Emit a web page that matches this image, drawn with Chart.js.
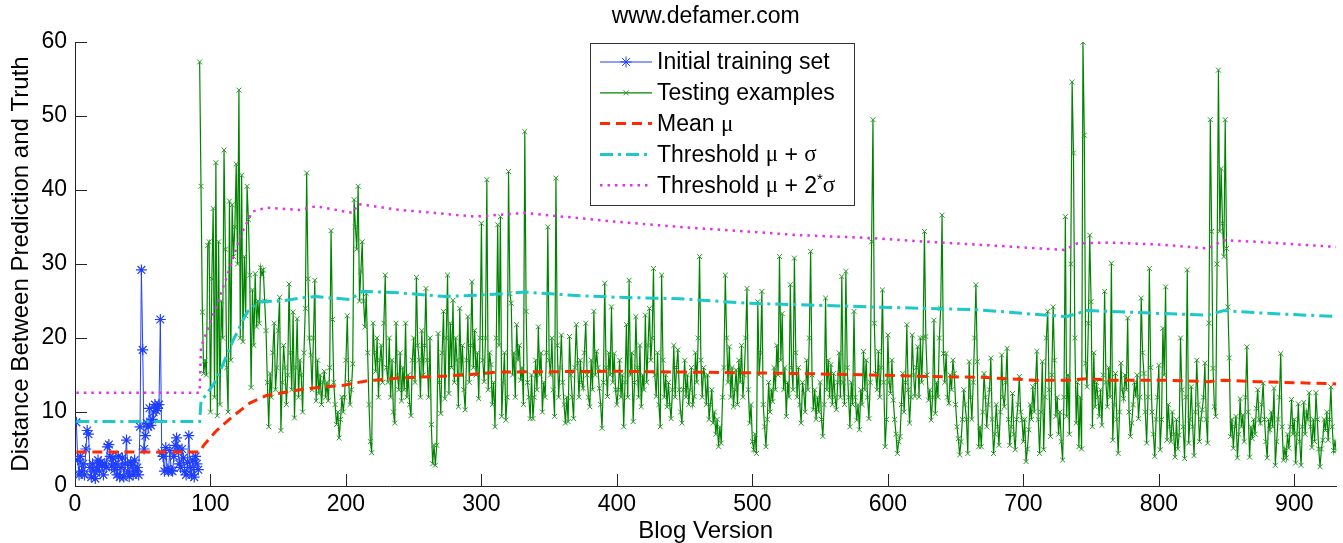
<!DOCTYPE html>
<html>
<head>
<meta charset="utf-8">
<title>www.defamer.com</title>
<script src="https://cdn.jsdelivr.net/npm/chart.js@4.4.1/dist/chart.umd.min.js"></script>
<style>
  html, body { margin: 0; padding: 0; background: #fff; overflow: hidden; }
  #wrap { width: 1343px; height: 543px; overflow: hidden; }
</style>
</head>
<body>
<div id="wrap"><canvas id="chart" width="1343" height="560"></canvas></div>
<script>
// Axis ticks
const xTicks = [0, 100, 200, 300, 400, 500, 600, 700, 800, 900];
const yTicks = [0, 10, 20, 30, 40, 50, 60];
const xMax = 931;

// Initial training set, blog versions 1..91
const trainStart = 1;
const trainValues = [
  8.6, 3.5, 1.5, 4.0, 2.0, 3.0, 1.5, 5.0, 7.5, 7.0,
  2.5, 1.2, 3.0, 2.0, 1.0, 2.5, 3.5, 2.0, 3.2, 2.8,
  1.5, 3.0, 2.5, 5.3, 5.6, 4.0, 2.7, 3.8, 2.2, 3.0,
  1.5, 4.0, 1.2, 2.5, 3.8, 1.2, 3.0, 6.2, 2.0, 1.3,
  3.2, 2.8, 1.5, 3.5, 2.0, 2.5, 1.5, 8.0, 29.2, 18.4,
  5.0, 6.8, 8.5, 8.0, 10.5, 8.2, 9.0, 10.0, 11.0, 10.2,
  10.5, 11.0, 22.5, 4.5, 4.0, 2.0, 5.2, 2.3, 2.0, 4.8,
  2.1, 2.0, 4.0, 5.5, 6.5, 5.0, 3.0, 2.5, 5.0, 3.8,
  2.0, 1.5, 3.2, 6.8, 2.5, 1.5, 3.5, 1.2, 4.0, 3.0, 2.2
];

// Testing examples, blog versions 92..931
const testStart = 92;
const testValues = [
  57.3, 40.5, 23.5, 15.2, 17, 15, 32.5, 33,
  10, 28, 37.5, 12, 43.7, 9.5, 33, 11, 25, 20,
  45.4, 32, 16, 10, 38.5, 17, 38, 31, 35, 43.5,
  30, 53.5, 20, 42, 19.5, 31, 23, 40.5, 36, 28.5,
  13.3, 26.5, 19, 28.7, 21.5, 25, 22, 29.5, 28.5, 29.2,
  25, 21, 14, 8, 15.2, 12, 18, 22, 13, 16,
  21, 25.5, 7.5, 14, 19, 16, 11, 15, 27.3, 18,
  13, 23.5, 9.2, 16, 22.6, 12, 17, 15, 10, 18,
  24, 42.3, 28, 20, 17.7, 13, 20, 27.8, 11.5, 17,
  12.5, 15, 11, 14, 15.5, 12, 14, 11.5, 16, 34.5,
  22.5, 14, 11, 8.3, 10, 6.5, 9, 12, 10, 12,
  17, 23, 14, 11, 13, 16.5, 38.7, 35, 32, 40.5,
  25, 29, 33, 25, 21.5, 26, 18, 11, 6, 4.5,
  22, 18, 15.5, 20, 12, 17, 19, 14, 22, 28.5,
  16, 14, 20, 12, 17, 10, 8.5, 22, 15, 13,
  18, 11.5, 16, 13, 22, 12, 15, 11, 9.5, 17,
  20, 14, 28.2, 19, 17, 12, 21, 15, 19, 26.7,
  17, 12, 20, 8.3, 3, 5.5, 2.8, 5.5, 20.6, 14,
  9.8, 18, 23.6, 11.8, 20, 28.5, 12.5, 22, 16, 25.1,
  14, 20, 17, 10.7, 24, 15, 19, 13, 10.3, 17,
  22.9, 14, 19, 27.6, 16, 21, 15, 18, 11.8, 20,
  35.5, 17, 14.1, 20, 41.4, 13, 18, 16.4, 11, 14,
  8, 20, 35.3, 19, 36.4, 9.4, 14, 18, 8.9, 12,
  42.5, 26, 24.7, 15, 18, 12, 21.8, 17, 19, 14.3,
  16, 11, 47.9, 23.6, 14, 12, 9.1, 15, 9.1, 12,
  17, 13, 21.5, 15, 18, 10, 14, 12, 18, 35,
  17, 15, 20, 13, 9.4, 41.6, 19, 12, 16, 20.4,
  14, 11, 8.5, 12, 8.7, 20.2, 15, 12, 9.1, 16,
  21.8, 16.6, 12, 17, 14, 13.2, 18, 22, 15, 12,
  10.7, 17, 13, 23.6, 15, 18.2, 16, 13.2, 11, 7.8,
  14, 27.4, 16, 12.1, 18, 15, 24.2, 14, 17.9, 13,
  11, 13, 17, 12, 15, 8, 14, 21.8, 12, 27.8,
  15, 18, 8.7, 14, 22.9, 16, 12, 19, 10.7, 15,
  13, 23.1, 14, 19, 24, 17, 20, 29.4, 15, 12.1,
  18, 11, 8, 28.5, 17, 12, 15, 10.7, 14, 11,
  9.1, 13, 19, 12, 16, 18.4, 13, 10, 8.5, 13,
  17, 12, 15, 11, 13, 16, 11, 12.1, 18, 14,
  20, 31, 17, 12, 16, 14.8, 11, 15, 9, 11,
  13, 8.5, 10, 7, 9, 5.3, 8, 5.8, 12, 16,
  28.5, 20, 14, 18.8, 12, 16, 10.7, 13, 15.7, 11,
  17, 14, 19, 12, 15, 20, 26.7, 13, 8.5, 11,
  6, 4.9, 7, 4.4, 24.9, 15, 18, 26.3, 11, 8,
  5.3, 9, 14, 10, 13, 11.4, 16, 13, 19, 15,
  31, 17, 23.3, 13, 16, 9.4, 14, 12, 27.2, 16,
  13, 30.8, 18, 12, 16, 11, 8.5, 14, 12.5, 10,
  17, 13, 20, 31.7, 15, 10.3, 13, 9, 12, 10,
  14, 9, 6.7, 11, 25.4, 13, 17, 12, 16.4, 11,
  15.2, 12, 10.3, 14, 18, 12, 28.3, 14, 11, 29,
  16, 12, 8, 14, 11, 23.6, 12, 8.9, 11, 7.6,
  13, 11, 18.2, 13, 17, 12, 9.1, 14, 33, 49.5,
  22, 15.2, 13, 18.2, 12, 16, 26.5, 14, 5.3, 9,
  20.4, 14, 12.5, 17, 11.6, 9, 7, 4.4, 6, 6.7,
  11, 15.2, 10, 14, 21.8, 13, 8.5, 12, 20.4, 15,
  12.1, 16, 18.8, 12, 20, 14, 20, 34.4, 20.2, 15,
  11.6, 13, 8.9, 12, 22.4, 9.8, 14, 12, 20, 24,
  36.6, 17.9, 14, 17.9, 12, 11.2, 15, 13, 17, 15.2,
  11, 8, 6.4, 4.2, 6, 9, 13, 11, 9, 4.4,
  16.8, 12, 9, 14, 20, 27.2, 16.8, 5.3, 8, 5.3,
  10, 15.2, 12, 8, 11, 13, 17.3, 9, 4.4, 7,
  11, 8, 5.5, 10, 17.7, 12, 10.7, 14, 18.6, 9,
  5.5, 8, 12.5, 7, 4.9, 9, 11, 14.8, 10, 8.9,
  6, 9, 3.3, 5, 7.6, 11, 9, 13.4, 10, 14,
  18.2, 9, 4.4, 10, 16.8, 4.9, 12, 20, 23.6, 13,
  6.7, 15, 24.2, 17, 9.4, 12, 7, 10, 6, 3.5,
  12, 36.4, 9.4, 15, 7, 30, 54.6, 45, 20, 8.5,
  14, 5.3, 12, 5, 60, 47.4, 16.6, 13.4, 22, 33.9,
  24.9, 8, 18, 10.7, 14, 12, 9.4, 13, 8.2, 15,
  26.3, 14, 10.7, 16, 12, 30.1, 6.2, 11, 15.2, 9,
  4.4, 10, 16.6, 13, 11.8, 15, 13, 22.7, 10, 6.7,
  8.5, 11, 14, 12.1, 15, 9.1, 12, 25.4, 18, 15.2,
  10, 5.8, 12, 29.4, 16, 10, 7, 4, 9, 12,
  16.3, 4.9, 9, 21.3, 15, 26.9, 6.2, 11, 8, 6,
  10, 7, 3.9, 9, 5, 6.9, 20, 13, 8, 3.7,
  12, 29.2, 5.8, 9, 13.4, 8, 4.1, 10, 17, 11,
  6, 9, 10.3, 12, 16.6, 9, 5.8, 22, 49.5, 34.4,
  15.9, 10.7, 9.4, 30, 56.2, 34.4, 42.9, 35.5, 31, 49.5,
  32.1, 24.2, 17.3, 6.7, 9, 5.1, 8, 9.4, 3.8, 7,
  11.8, 8, 9.6, 6, 12, 18.8, 10, 3.9, 8, 6.4,
  9, 7, 10.5, 13, 9, 8.5, 11, 13.9, 9, 6,
  3.8, 9, 7.6, 10, 8, 13.2, 2.8, 6, 9, 12,
  17.9, 8, 3.5, 5, 3.8, 7, 5.1, 8, 11.7, 7,
  9, 3.1, 7, 11.1, 6, 2.8, 8, 11.3, 7, 10,
  9, 12.6, 8, 5.2, 9, 6, 12.6, 9, 5, 2.6,
  5, 6.2, 9, 7.5, 10, 6.2, 9, 13.4, 8, 4.8,
  6, 4.8
];

// Running mean mu (read at the bends)
const meanX = [1, 92, 95, 104, 117, 129, 141, 150, 166, 183, 198, 215, 221, 240, 266, 288, 312, 400, 447, 496, 534, 588, 630, 668, 708, 732, 747, 764, 803, 836, 848, 873, 931];
const meanY = [4.6, 4.6, 5.5, 7.4, 9.5, 11.2, 12.2, 12.5, 13.0, 13.4, 13.6, 14.2, 14.3, 14.6, 14.8, 15.0, 15.4, 15.5, 15.4, 15.3, 15.2, 15.0, 14.8, 14.7, 14.3, 14.3, 14.5, 14.3, 14.3, 14.1, 14.3, 14.1, 13.8];

// Threshold mu + sigma
const sigma1X = [1, 92, 93, 104, 117, 127, 136, 153, 166, 178, 203, 212, 240, 273, 300, 332, 374, 400, 447, 496, 534, 588, 668, 715, 732, 747, 764, 803, 836, 848, 873, 931];
const sigma1Y = [8.7, 8.7, 11.4, 14.2, 19.8, 23.5, 24.9, 25.0, 25.4, 25.6, 25.2, 26.3, 26.1, 25.6, 25.8, 26.2, 25.7, 25.5, 25.3, 24.7, 24.5, 24.2, 23.8, 23.1, 22.9, 23.7, 23.6, 23.3, 23.1, 23.7, 23.4, 22.9];

// Threshold mu + 2*sigma
const sigma2X = [1, 92, 93, 99, 112, 122, 131, 141, 166, 178, 205, 209, 240, 266, 295, 332, 400, 447, 496, 534, 588, 630, 668, 730, 740, 764, 803, 836, 848, 873, 931];
const sigma2Y = [12.6, 12.6, 18.8, 21.7, 28.2, 33.8, 37.1, 37.6, 37.3, 37.8, 36.9, 38.1, 37.3, 36.9, 36.4, 36.9, 35.7, 35.0, 34.4, 33.9, 33.5, 33.0, 32.6, 31.9, 32.8, 32.9, 32.6, 32.1, 33.2, 33.0, 32.3];

// Legend text, split so the Greek letters can use a symbol-like face
const legendLabels = [
  [['Initial training set', 'r']],
  [['Testing examples', 'r']],
  [['Mean ', 'r'], ['\u03bc', 'g']],
  [['Threshold ', 'r'], ['\u03bc', 'g'], [' + ', 'r'], ['\u03c3', 'g']],
  [['Threshold ', 'r'], ['\u03bc', 'g'], [' + 2', 'r'], ['*', 's'], ['\u03c3', 'g']]
];

const SANS = '"Liberation Sans", Arial, Helvetica, sans-serif';
const SERIF = '"Liberation Serif", "Times New Roman", serif';
Chart.defaults.font.family = SANS;
Chart.defaults.color = '#000';

function toPoints(start, values) {
  return values.map((v, i) => ({ x: start + i, y: v }));
}
function zipPoints(xs, ys) {
  return xs.map((x, i) => ({ x: x, y: ys[i] }));
}

const datasets = [
  { label: 'Mean \u03bc', data: zipPoints(meanX, meanY), borderColor: '#ff2a00', borderWidth: 3,
    borderDash: [10, 6], pointRadius: 0, order: 1 },
  { label: 'Threshold \u03bc + \u03c3', data: zipPoints(sigma1X, sigma1Y), borderColor: '#1ec8c8', borderWidth: 3,
    borderDash: [13, 5, 3, 5], pointRadius: 0, order: 2 },
  { label: 'Threshold \u03bc + 2*\u03c3', data: zipPoints(sigma2X, sigma2Y), borderColor: '#e033e6', borderWidth: 2.5,
    borderDash: [2.5, 5], pointRadius: 0, order: 3 },
  { label: 'Testing examples', data: toPoints(testStart, testValues), borderColor: '#008400', borderWidth: 1.2,
    pointStyle: 'crossRot', pointRadius: 3.5, pointBorderWidth: 1, pointBorderColor: '#2a9a2a', order: 4 },
  { label: 'Initial training set', data: toPoints(trainStart, trainValues), borderColor: '#1f3fff', borderWidth: 1,
    pointStyle: 'star', pointRadius: 5.5, pointBorderWidth: 1.2, pointBorderColor: '#1f3fff', order: 5 }
];
const legendOrder = [4, 3, 0, 1, 2];

// MATLAB style ticks pointing into the plot
const inwardTicks = {
  id: 'inwardTicks',
  beforeDatasetsDraw(chart) {
    const { ctx, chartArea: a, scales } = chart;
    ctx.save();
    ctx.strokeStyle = '#262626';
    ctx.lineWidth = 1;
    ctx.beginPath();
    xTicks.forEach(v => {
      const px = Math.round(scales.x.getPixelForValue(v)) + 0.5;
      ctx.moveTo(px, a.bottom);
      ctx.lineTo(px, a.bottom - 12);
    });
    yTicks.forEach(v => {
      const py = Math.round(scales.y.getPixelForValue(v)) + 0.5;
      ctx.moveTo(a.left, py);
      ctx.lineTo(a.left + 12, py);
    });
    ctx.stroke();
    ctx.restore();
  }
};

// Title over the plot area and the boxed legend inside it
const decorations = {
  id: 'decorations',
  afterDraw(chart) {
    const { ctx, chartArea: a } = chart;
    ctx.save();
    ctx.fillStyle = '#000';
    ctx.font = '23px ' + SANS;
    ctx.textAlign = 'center';
    ctx.textBaseline = 'middle';
    ctx.fillText('www.defamer.com', (a.left + a.right) / 2, 17);

    const bx = 590.5, by = 43.5, bw = 264, bh = 162;
    ctx.fillStyle = '#fff';
    ctx.fillRect(bx, by, bw, bh);
    ctx.strokeStyle = '#333';
    ctx.lineWidth = 1;
    ctx.strokeRect(bx, by, bw, bh);

    legendOrder.forEach((di, row) => {
      const ds = chart.data.datasets[di];
      const y = 62 + row * 30.8;
      ctx.save();
      ctx.strokeStyle = ds.borderColor;
      ctx.lineWidth = ds.borderWidth;
      ctx.setLineDash(ds.borderDash || []);
      ctx.beginPath();
      ctx.moveTo(600, y);
      ctx.lineTo(652, y);
      ctx.stroke();
      ctx.setLineDash([]);
      if (ds.pointStyle) {
        ctx.strokeStyle = ds.pointBorderColor;
        ctx.fillStyle = ds.pointBorderColor;
        ctx.lineWidth = 1;
        Chart.helpers.drawPoint(ctx, { pointStyle: ds.pointStyle, radius: ds.pointRadius, rotation: 0, borderWidth: 1 }, 626, y);
      }
      ctx.restore();

      let x = 657;
      ctx.textAlign = 'left';
      ctx.fillStyle = '#000';
      legendLabels[row].forEach(([t, kind]) => {
        let dy = 0;
        if (kind === 'g') ctx.font = '23px ' + SERIF;
        else if (kind === 's') { ctx.font = '15px ' + SANS; dy = -6; }
        else ctx.font = '23px ' + SANS;
        ctx.fillText(t, x, y + 1 + dy);
        x += ctx.measureText(t).width;
      });
    });
    ctx.restore();
  }
};

new Chart(document.getElementById('chart'), {
  type: 'line',
  data: { datasets: datasets },
  plugins: [inwardTicks, decorations],
  options: {
    responsive: false,
    devicePixelRatio: 1,
    animation: false,
    events: [],
    layout: { padding: { left: 0, right: 6, top: 42, bottom: 0 } },
    elements: { line: { tension: 0 } },
    plugins: {
      legend: { display: false },
      title: { display: false },
      tooltip: { enabled: false }
    },
    scales: {
      x: {
        type: 'linear',
        min: 0,
        max: xMax,
        afterBuildTicks: s => { s.ticks = xTicks.map(v => ({ value: v })); },
        afterFit: s => { s.height = 74; },
        grid: { drawOnChartArea: false, drawTicks: false },
        border: { display: true, color: '#262626', width: 1 },
        ticks: { font: { size: 23 }, color: '#000', padding: 5, maxRotation: 0, autoSkip: false },
        title: { display: true, text: 'Blog Version', font: { size: 24 }, color: '#000', padding: { top: 0, bottom: 13.9 } }
      },
      y: {
        type: 'linear',
        min: 0,
        max: 60,
        afterBuildTicks: s => { s.ticks = yTicks.map(v => ({ value: v })); },
        afterFit: s => { s.width = 75; },
        grid: { drawOnChartArea: false, drawTicks: false },
        border: { display: true, color: '#262626', width: 1 },
        ticks: { font: { size: 23 }, color: '#000', padding: 8 },
        title: { display: true, text: 'Distance Between Prediction and Truth', font: { size: 24 }, color: '#000', padding: { top: 7.3, bottom: 0 } }
      }
    }
  }
});
</script>
</body>
</html>
